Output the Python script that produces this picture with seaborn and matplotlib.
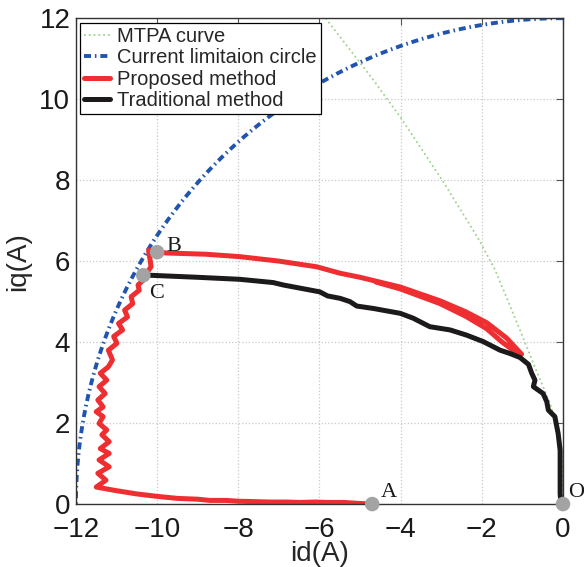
"""
id-iq current trajectory plot
"""

import numpy as np
import seaborn as sns
import matplotlib.pyplot as plt

# current limitation circle radius (A)
i_max = 12.0

# MTPA curve points
mtpa_id = [-5.85, -4.67, -4.01, -2.95, -2.09, -1.67, -1.06, -0.74, -0.49, -0.32, -0.12, -0.03, 0.0]
mtpa_iq = [12.0, 10.47, 9.56, 7.96, 6.56, 5.78, 4.30, 3.50, 2.90, 2.49, 1.83, 1.20, 0.0]

# proposed method trajectory (A -> left side -> B -> right)
prop_id = [-4.70, -5.1, -5.4, -5.8, -6.1, -6.5, -6.8, -7.2, -7.6, -8.0, -8.3, -8.7, -9.0, -9.5,
           -10.0, -10.5, -11.0, -11.50,
           -11.26, -11.46, -11.18, -11.43, -11.18, -11.40, -11.18, -11.36, -11.24, -11.43,
           -11.33, -11.50, -11.33, -11.46, -11.28, -11.43, -11.24, -11.40, -11.20, -11.10,
           -11.20, -10.99, -11.07, -10.85, -10.95, -10.73, -10.80, -10.60, -10.64, -10.44,
           -10.47, -10.34, -10.26, -10.15, -10.17, -10.20, -10.21,
           -10.02, -9.76, -8.8, -7.96, -7.0, -6.07, -5.49, -5.0, -4.01, -3.03, -2.4, -1.88,
           -1.39, -1.02,
           -1.15, -1.50, -1.88, -2.4, -3.03, -4.0, -4.6]
prop_iq = [0.00, 0.02, 0.04, 0.04, 0.05, 0.04, 0.05, 0.05, 0.06, 0.07, 0.09, 0.09, 0.12, 0.14,
           0.19, 0.25, 0.33, 0.42,
           0.59, 0.76, 0.92, 1.09, 1.25, 1.37, 1.54, 1.71, 1.83, 1.99,
           2.16, 2.28, 2.40, 2.57, 2.73, 2.90, 3.06, 3.23, 3.39, 3.56,
           3.80, 3.97, 4.14, 4.30, 4.46, 4.62, 4.79, 4.95, 5.12, 5.28,
           5.41, 5.53, 5.70, 5.86, 6.02, 6.18, 6.27,
           6.22, 6.20, 6.17, 6.11, 6.00, 5.86, 5.70, 5.60, 5.36, 5.02, 4.75, 4.48,
           4.10, 3.70,
           3.74, 4.00, 4.33, 4.64, 4.95, 5.31, 5.48]

# traditional method trajectory (O -> up -> C)
trad_id = [-0.05, -0.07, -0.07, -0.07, -0.12, -0.16, -0.20, -0.36, -0.40, -0.49, -0.73, -0.69,
           -0.77, -0.85, -1.06, -1.31, -1.55, -1.96, -2.37, -2.78, -3.28, -3.69, -4.01, -4.67,
           -5.08, -5.25, -5.49, -5.80, -5.99, -6.89, -7.14, -7.96, -9.0, -10.17, -10.34]
trad_iq = [0.02, 0.26, 0.84, 1.33, 1.75, 1.95, 2.16, 2.32, 2.53, 2.73, 2.90, 3.06,
           3.23, 3.45, 3.62, 3.72, 3.80, 4.01, 4.17, 4.30, 4.38, 4.59, 4.71, 4.83,
           4.89, 5.00, 5.08, 5.14, 5.24, 5.41, 5.47, 5.55, 5.60, 5.65, 5.65]

# labelled operating points
pt_names = ["A", "O", "B", "C"]
pt_id = [-4.70, 0.0, -10.0, -10.34]
pt_iq = [0.0, 0.0, 6.22, 5.65]
pt_text = [(-4.5, 0.17), (0.12, 0.17), (-9.78, 6.25), (-10.2, 5.09)]

sns.set_theme(style="whitegrid", rc={"grid.linestyle": ":", "grid.color": "#c8c8c8",
                                     "grid.linewidth": 0.9})
plt.rcParams['font.family'] = ['Liberation Sans', 'DejaVu Sans']

fig = plt.figure(figsize=(5.84, 5.67), dpi=100)
ax = fig.add_axes([0.130, 0.111, 0.834, 0.857])

theta = np.linspace(np.pi / 2, np.pi, 300)
circ_id = i_max * np.cos(theta)
circ_iq = i_max * np.sin(theta)

sns.lineplot(x=mtpa_id, y=mtpa_iq, sort=False, estimator=None, ax=ax, color="#9fd38c",
             lw=1.3, linestyle=":", label="MTPA curve")
sns.lineplot(x=circ_id, y=circ_iq, sort=False, estimator=None, ax=ax, color="#2155ad",
             lw=2.8, dashes=False, label="Current limitaion circle")
ax.lines[-1].set_dashes((1.8, 1.0, 0.4, 1.0))
sns.lineplot(x=prop_id, y=prop_iq, sort=False, estimator=None, ax=ax, color="#ee2e31",
             lw=3.6, label="Proposed method")
sns.lineplot(x=trad_id, y=trad_iq, sort=False, estimator=None, ax=ax, color="#1c1a1a",
             lw=3.6, label="Traditional method")

sns.scatterplot(x=pt_id, y=pt_iq, ax=ax, color="#a3a3a3", s=110, edgecolor="none",
                zorder=5, clip_on=False, legend=False)
for name, (tx, ty) in zip(pt_names, pt_text):
    ax.text(tx, ty, name, family="Liberation Serif", fontsize=16, color="#1a1a1a",
            ha="left", va="baseline", clip_on=False)

ax.set_xlim(-12, 0)
ax.set_ylim(0, 12)
ax.set_xticks(np.arange(-12, 1, 2))
ax.set_yticks(np.arange(0, 13, 2))
ax.set_xlabel("id(A)", fontsize=20, labelpad=-1)
ax.set_ylabel("iq(A)", fontsize=20, labelpad=6)
ax.tick_params(direction="in", length=5, width=0.8, color="#555555", labelsize=20,
               top=True, right=True, pad=4, labelcolor="#1a1a1a")
ax.tick_params(axis="x", pad=9)
for s in ax.spines.values():
    s.set_color("#333333")
    s.set_linewidth(1.0)
ax.grid(True)

leg = ax.legend(loc="upper left", bbox_to_anchor=(0.008, 0.99), borderaxespad=0,
                fontsize=14.5, frameon=True, fancybox=False, framealpha=1,
                edgecolor="black", handlelength=1.3, handletextpad=0.35,
                labelspacing=0.12, borderpad=0.2)
leg.get_frame().set_linewidth(0.9)

fig.savefig("out.png", dpi=100)
